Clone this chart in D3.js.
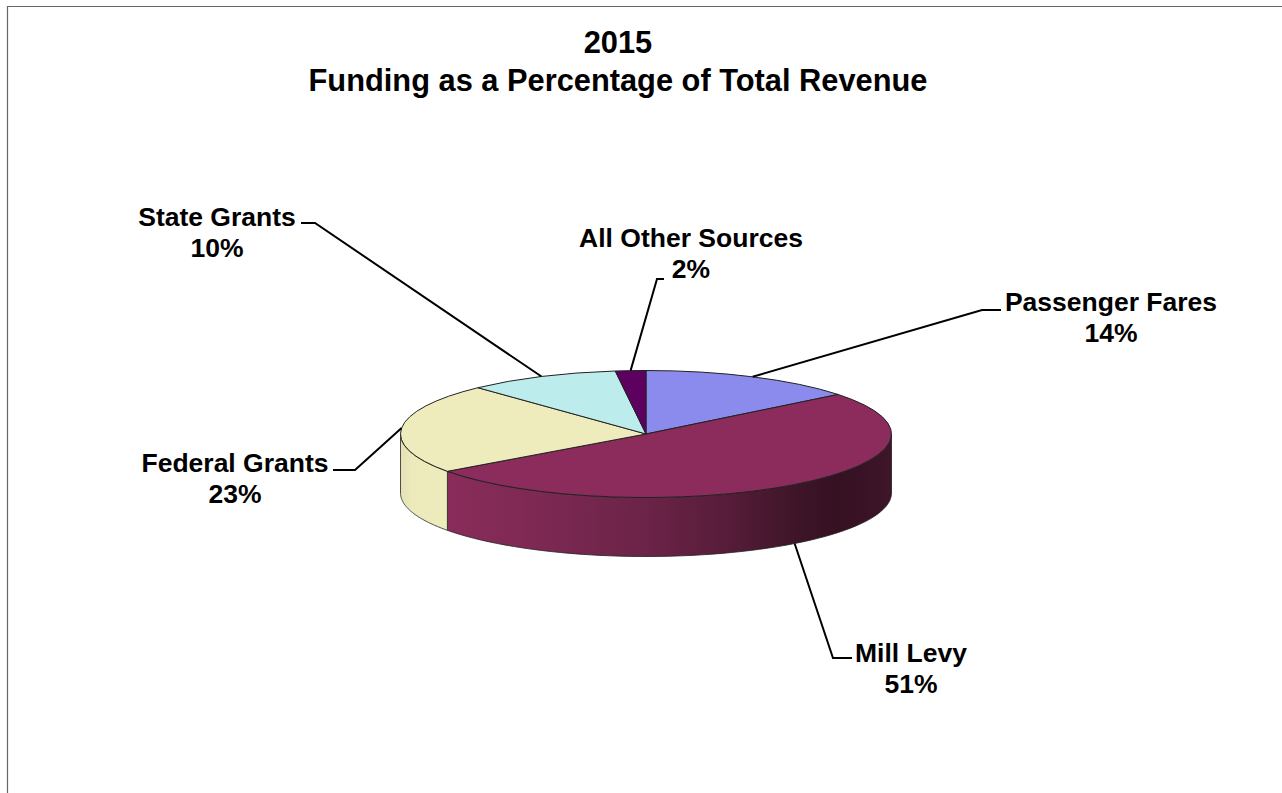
<!DOCTYPE html>
<html><head><meta charset="utf-8">
<script src="https://cdn.jsdelivr.net/npm/d3@7"></script>
<style>html,body{margin:0;padding:0;background:#fff;overflow:hidden}svg{display:block}
text{font-family:"Liberation Sans",Arial,sans-serif;font-weight:bold;fill:#000}</style>
</head><body><div id="chart"></div>
<script>
const categories=["Passenger Fares","Mill Levy","Federal Grants","State Grants","All Other Sources"];
const values=[14.3,50.7,23,10,2];
const percentLabels=["14%","51%","23%","10%","2%"];
const colors=["#8a8bec","#8b2c5c","#eeecbd","#bdecec","#5e0060"];
const titleLines=["2015","Funding as a Percentage of Total Revenue"];

const W=1282,H=793,cx=646,cy=434,rx=245.5,ry=63.5,depth=59;
const svg=d3.select("#chart").append("svg").attr("width",W).attr("height",H);

// frame
svg.append("path").attr("d",`M7.5,${H}V6.5H${W}`).attr("fill","none").attr("stroke","#666").attr("stroke-width",1.2);

// title
svg.selectAll("text.title").data(titleLines).join("text").attr("class","title")
  .attr("x",618).attr("y",(d,i)=>53+i*38).attr("text-anchor","middle").attr("font-size",30.8).text(d=>d);

const pie=d3.pie().sort(null).value(d=>d.value);
const data=categories.map((c,i)=>({name:c,value:values[i],color:colors[i],label:percentLabels[i]}));
const arcs=pie(data);
const pt=(a,dy=0)=>[cx+rx*Math.sin(a),cy-ry*Math.cos(a)+dy];

const defs=svg.append("defs");
const gradS=(id,x1,x2,stops)=>{const g=defs.append("linearGradient").attr("id",id).attr("gradientUnits","userSpaceOnUse")
  .attr("x1",x1).attr("x2",x2).attr("y1",0).attr("y2",0);
  stops.forEach(s=>g.append("stop").attr("offset",s[0]).attr("stop-color",s[1]));};
gradS("sideMill",447,891,[[0,"#8a2c5b"],[0.25,"#7a2851"],[0.45,"#6b2347"],[0.62,"#581d3a"],[0.78,"#3f1529"],[0.88,"#351122"],[1,"#3e1529"]]);
gradS("sideFed",400,447,[[0,"#e4e2b5"],[0.25,"#ecEabb"],[1,"#eeecbd"]]);

// side walls (visible only on front half: angles between PI/2 and 3PI/2)
const line=d3.line();
function sidePath(a0,a1){
  const lo=Math.max(a0,Math.PI/2),hi=Math.min(a1,3*Math.PI/2);
  if(hi<=lo) return null;
  const angles=d3.range(0,61).map(i=>lo+(hi-lo)*i/60);
  const top=angles.map(a=>pt(a));
  const bottom=angles.slice().reverse().map(a=>pt(a,depth));
  return line(top.concat(bottom))+"Z";
}
const sideFill={"Mill Levy":"url(#sideMill)","Federal Grants":"url(#sideFed)"};
svg.append("g").selectAll("path").data(arcs.filter(d=>sidePath(d.startAngle,d.endAngle))).join("path")
  .attr("d",d=>sidePath(d.startAngle,d.endAngle))
  .attr("fill",d=>sideFill[d.data.name]||d.data.color)
  .attr("stroke","#222").attr("stroke-width",0.8);

// top face
const arc=d3.arc().innerRadius(0).outerRadius(rx);
svg.append("g").attr("transform",`translate(${cx},${cy}) scale(1,${ry/rx})`)
  .selectAll("path").data(arcs).join("path").attr("d",arc)
  .attr("fill",d=>d.data.color).attr("stroke","#222").attr("stroke-width",1)
  .style("vector-effect","non-scaling-stroke");

// labels and leader lines
const layout={
 "Passenger Fares":{lx:1111,ly:310,elbow:[982,310],end:[1001,310]},
 "Mill Levy":{lx:911,ly:661,elbow:[833,658],end:[852,658]},
 "Federal Grants":{lx:235,ly:471,elbow:[355,470],end:[333,470]},
 "State Grants":{lx:217,ly:225,elbow:[315,223],end:[301,223]},
 "All Other Sources":{lx:691,ly:246,elbow:[657,279],end:[664,279]}
};
const g=svg.append("g");
arcs.forEach(d=>{
  const l=layout[d.data.name],mid=(d.startAngle+d.endAngle)/2;
  const front=Math.cos(mid)<0;
  const s=pt(mid,front?depth:0);
  g.append("path").attr("d",line([s,l.elbow,l.end])).attr("fill","none").attr("stroke","#000").attr("stroke-width",2);
  const t=g.append("text").attr("text-anchor","middle").attr("font-size",26.5);
  t.append("tspan").attr("x",l.lx).attr("y",l.ly+1).text(d.data.name);
  t.append("tspan").attr("x",l.lx).attr("y",l.ly+32).text(d.data.label);
});
</script></body></html>
